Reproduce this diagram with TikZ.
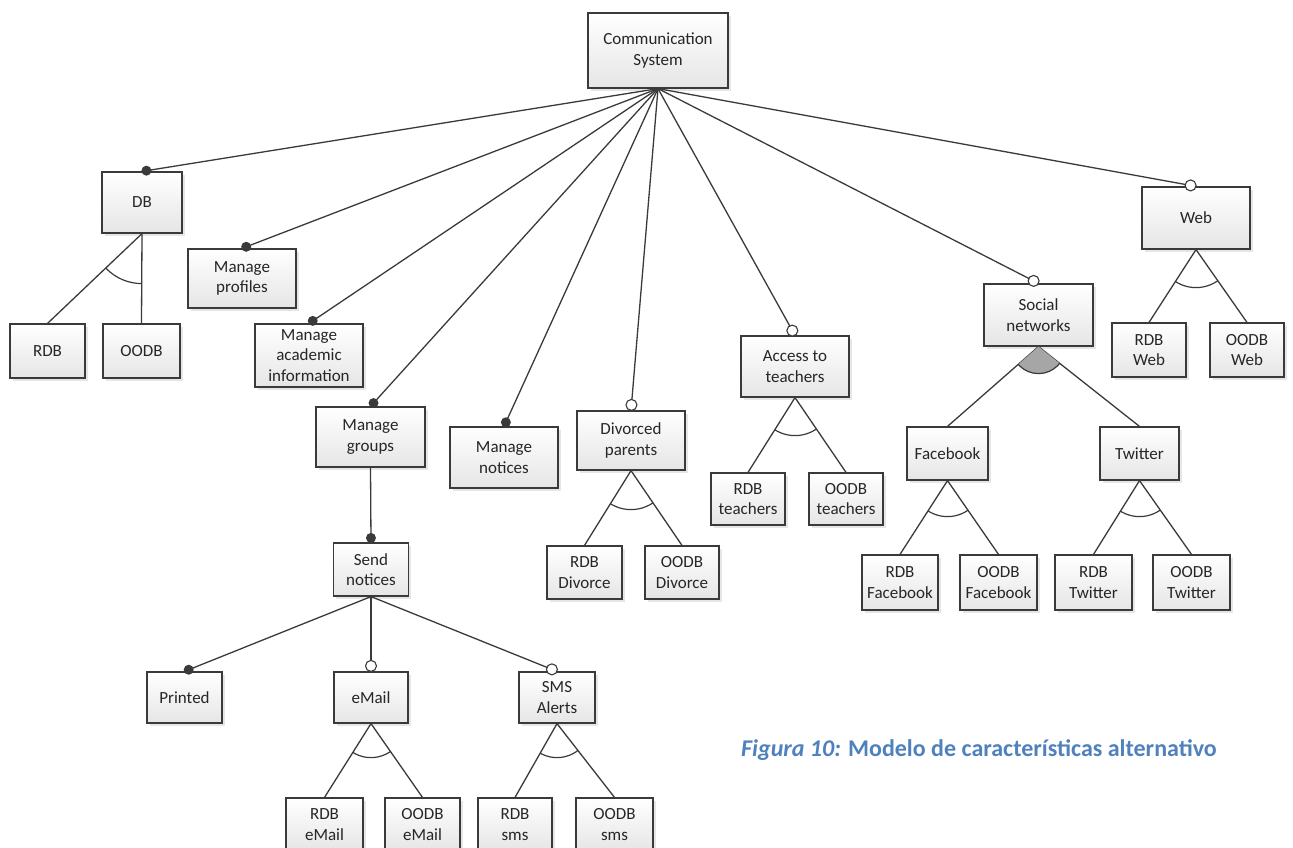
\documentclass[tikz,border=0pt]{standalone}
\usepackage{fontspec}
\setmainfont{Carlito}
\usepackage{tikz}
\usetikzlibrary{positioning,calc,shadows}
\definecolor{linegray}{HTML}{3A3A3A}
\definecolor{capblue}{HTML}{4F81BD}
\tikzset{>=stealth,
  feature/.style={draw=linegray,line width=1.2pt,rectangle,align=center,inner sep=1pt,
    top color=white,bottom color=black!10,
    drop shadow={shadow xshift=2.5pt,shadow yshift=-2.5pt,opacity=0.2},
    font=\fontsize{17}{20.5}\selectfont,text=black!85},
  bigbox/.style={feature,minimum width=108pt,minimum height=60pt},
  smallbox/.style={feature,minimum width=75pt,minimum height=53pt},
  edge/.style={draw=linegray,line width=1.3pt},
}
\newcommand{\grouparc}[4]{%
  \begin{scope}
  \clip (#1.south) -- (#2.north) -- (#3.north) -- cycle;
  \draw[edge,line width=1.2pt] (#1.south) circle[radius=#4];
  \end{scope}}

\begin{document}
\begin{tikzpicture}[x=1pt,y=-1pt]
\useasboundingbox (0,0) rectangle (1293,847);
\node[feature,minimum width=140pt,minimum height=75pt] (cs) at (658,50.5) {Communication\\System};
\node[feature,minimum width=80pt,minimum height=61pt] (db) at (142,202.5) {DB};
\node[smallbox,minimum height=54pt] (rdb) at (47.5,351) {RDB};
\node[smallbox,minimum width=77pt,minimum height=54pt] (oodb) at (141.5,351) {OODB};
\node[bigbox,minimum height=59pt] (mprof) at (242,278.5) {Manage\\profiles};
\node[bigbox,minimum height=63pt] (macad) at (309,355.5) {Manage\\academic\\information};
\node[bigbox,minimum width=109pt] (mgroups) at (370.5,437) {Manage\\groups};
\node[bigbox,minimum height=61pt] (mnot) at (504,457.5) {Manage\\notices};
\node[bigbox,minimum height=59pt] (div) at (631,440.5) {Divorced\\parents};
\node[smallbox] (rdbdiv) at (584.5,572.5) {RDB\\Divorce};
\node[smallbox,minimum width=74pt] (oodbdiv) at (682,572.5) {OODB\\Divorce};
\node[bigbox,minimum height=61pt] (access) at (795,366.5) {Access to\\teachers};
\node[smallbox,minimum width=74pt,minimum height=52pt] (rdbteach) at (748,499) {RDB\\teachers};
\node[smallbox,minimum width=74pt,minimum height=52pt] (oodbteach) at (846,499) {OODB\\teachers};
\node[bigbox,minimum width=109pt,minimum height=62pt] (social) at (1038.5,315) {Social\\networks};
\node[smallbox,minimum width=81pt] (facebook) at (947.5,453.5) {Facebook};
\node[smallbox,minimum width=79pt] (twitter) at (1139.5,453.5) {Twitter};
\node[smallbox,minimum width=76pt,minimum height=55pt] (rdbfb) at (900,582.5) {RDB\\Facebook};
\node[smallbox,minimum width=77pt,minimum height=55pt] (oodbfb) at (998.5,582.5) {OODB\\Facebook};
\node[smallbox,minimum width=77pt,minimum height=55pt] (rdbtw) at (1093.5,582.5) {RDB\\Twitter};
\node[smallbox,minimum width=77pt,minimum height=55pt] (oodbtw) at (1191.5,582.5) {OODB\\Twitter};
\node[bigbox,minimum height=62pt] (web) at (1196,218) {Web};
\node[smallbox,minimum width=74pt,minimum height=54pt] (rdbweb) at (1149,350) {RDB\\Web};
\node[smallbox,minimum width=74pt,minimum height=54pt] (oodbweb) at (1247,350) {OODB\\Web};
\node[smallbox] (send) at (371,569.5) {Send\\notices};
\node[smallbox,minimum height=51pt] (printed) at (184.5,697.5) {Printed};
\node[smallbox,minimum width=74pt,minimum height=51pt] (email) at (371,697.5) {eMail};
\node[smallbox,minimum width=76pt,minimum height=51pt] (sms) at (557,697.5) {SMS\\Alerts};
\node[smallbox,minimum width=77pt] (rdbmail) at (324.5,824.5) {RDB\\eMail};
\node[smallbox] (oodbmail) at (422.5,824.5) {OODB\\eMail};
\node[smallbox,minimum width=74pt] (rdbsms) at (515,824.5) {RDB\\sms};
\node[smallbox,minimum width=77pt] (oodbsms) at (614.5,824.5) {OODB\\sms};
\node[text=capblue,font=\fontsize{24}{28}\selectfont\bfseries] (caption) at (979,750)
  {\itshape Figura 10:\upshape{} Modelo de características alternativo};
\draw[edge] (cs.south) -- (db.north);
\draw[edge] (cs.south) -- (mprof.north);
\draw[edge] (cs.south) -- (macad.north);
\draw[edge] (cs.south) -- (mgroups.north);
\draw[edge] (cs.south) -- (mnot.north);
\draw[edge] (cs.south) -- (div.north);
\draw[edge] (cs.south) -- (access.north);
\draw[edge] (cs.south) -- (social.north);
\draw[edge] (cs.south) -- (web.north);
\draw[edge] (mgroups.south) -- (send.north);
\draw[edge] (send.south) -- (printed.north);
\draw[edge] (send.south) -- (email.north);
\draw[edge] (send.south) -- (sms.north);
\draw[edge] (db.south) -- (rdb.north);
\draw[edge] (db.south) -- (oodb.north);
\draw[edge] (div.south) -- (rdbdiv.north);
\draw[edge] (div.south) -- (oodbdiv.north);
\draw[edge] (access.south) -- (rdbteach.north);
\draw[edge] (access.south) -- (oodbteach.north);
\draw[edge] (social.south) -- (facebook.north);
\draw[edge] (social.south) -- (twitter.north);
\draw[edge] (facebook.south) -- (rdbfb.north);
\draw[edge] (facebook.south) -- (oodbfb.north);
\draw[edge] (twitter.south) -- (rdbtw.north);
\draw[edge] (twitter.south) -- (oodbtw.north);
\draw[edge] (web.south) -- (rdbweb.north);
\draw[edge] (web.south) -- (oodbweb.north);
\draw[edge] (email.south) -- (rdbmail.north);
\draw[edge] (email.south) -- (oodbmail.north);
\draw[edge] (sms.south) -- (rdbsms.north);
\draw[edge] (sms.south) -- (oodbsms.north);
\fill[linegray] ($(db.north)!4.5pt!(cs.south)$) circle[radius=5pt];
\fill[linegray] ($(mprof.north)!4.5pt!(cs.south)$) circle[radius=5pt];
\fill[linegray] ($(macad.north)!4.5pt!(cs.south)$) circle[radius=5pt];
\fill[linegray] ($(mgroups.north)!4.5pt!(cs.south)$) circle[radius=5pt];
\fill[linegray] ($(mnot.north)!4.5pt!(cs.south)$) circle[radius=5pt];
\fill[linegray] ($(send.north)!4.5pt!(mgroups.south)$) circle[radius=5pt];
\fill[linegray] ($(printed.north)!4.5pt!(send.south)$) circle[radius=5pt];
\filldraw[fill=white,draw=linegray,line width=1.1pt] ($(div.north)!5.5pt!(cs.south)$) circle[radius=5.5pt];
\filldraw[fill=white,draw=linegray,line width=1.1pt] ($(access.north)!5.5pt!(cs.south)$) circle[radius=5.5pt];
\filldraw[fill=white,draw=linegray,line width=1.1pt] ($(social.north)!5.5pt!(cs.south)$) circle[radius=5.5pt];
\filldraw[fill=white,draw=linegray,line width=1.1pt] ($(web.north)!5.5pt!(cs.south)$) circle[radius=5.5pt];
\filldraw[fill=white,draw=linegray,line width=1.1pt] ($(email.north)!5.5pt!(send.south)$) circle[radius=5.5pt];
\filldraw[fill=white,draw=linegray,line width=1.1pt] ($(sms.north)!5.5pt!(send.south)$) circle[radius=5.5pt];
\begin{scope}
\clip (social.south) -- (facebook.north) -- (twitter.north) -- cycle;
\fill[black!35] (social.south) circle[radius=27pt];
\end{scope}
\grouparc{social}{facebook}{twitter}{27pt}
\grouparc{db}{rdb}{oodb}{50pt}
\grouparc{div}{rdbdiv}{oodbdiv}{39pt}
\grouparc{access}{rdbteach}{oodbteach}{38pt}
\grouparc{web}{rdbweb}{oodbweb}{38pt}
\grouparc{facebook}{rdbfb}{oodbfb}{36pt}
\grouparc{twitter}{rdbtw}{oodbtw}{36pt}
\grouparc{email}{rdbmail}{oodbmail}{34pt}
\grouparc{sms}{rdbsms}{oodbsms}{34pt}
\end{tikzpicture}
\end{document}
